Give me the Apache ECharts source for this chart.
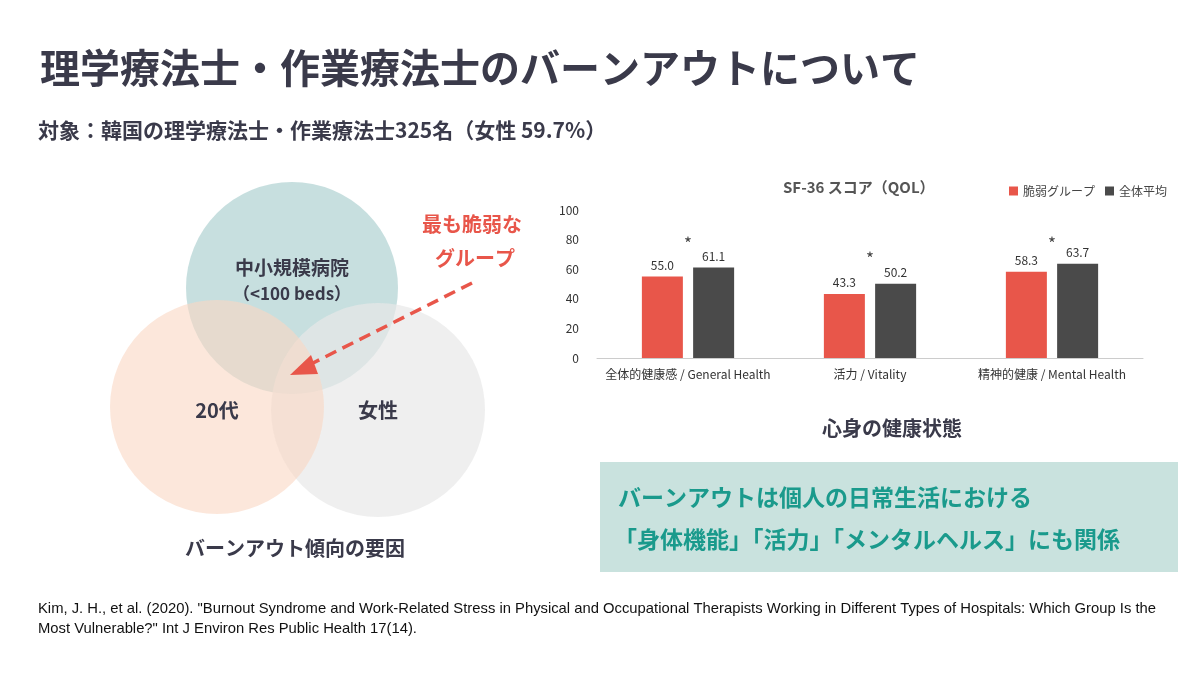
<!DOCTYPE html>
<html><head><meta charset="utf-8">
<script src="https://cdn.jsdelivr.net/npm/echarts@6/dist/echarts.min.js"></script>
<style>html,body{margin:0;padding:0;background:#fff}#c{width:1200px;height:675px}</style>
</head><body><div id="c"></div>
<script>
var categories = ['全体的健康感 / General Health', '活力 / Vitality', '精神的健康 / Mental Health'];
var vulnerable = [55.0, 43.3, 58.3];
var overall = [61.1, 50.2, 63.7];
var yTicks = [0, 20, 40, 60, 80, 100];
var starHeights = [77, 67, 77];

var F = '"Noto Sans CJK JP", "Noto Sans", sans-serif';
var red = '#e8564a', dark = '#4a4a4a', ink = '#3a3a4a';
var chart = echarts.init(document.getElementById('c'));

function t(x, y, text, size, color, weight, align, extra) {
  var s = { x: x, y: y, text: text, fontSize: size, fill: color, fontWeight: weight || 'bold',
    fontFamily: F, textAlign: align || 'left', textVerticalAlign: 'middle' };
  if (extra) for (var k in extra) s[k] = extra[k];
  return { type: 'text', style: s, z: 10 };
}

chart.setOption({
  animation: false,
  title: { text: 'SF-36 スコア（QOL）', left: 778, top: 175,
    textStyle: { fontFamily: F, fontSize: 15, fontWeight: 'bold', color: '#555' } },
  legend: { right: 28, top: 180, itemWidth: 9, itemHeight: 9, itemGap: 10, icon: 'rect',
    textStyle: { fontFamily: F, fontSize: 12, color: '#444' },
    data: ['脆弱グループ', '全体平均'] },
  grid: { left: 597, right: 57, top: 210, bottom: 317 },
  xAxis: { type: 'category', data: categories,
    axisLine: { lineStyle: { color: '#ccc' } }, axisTick: { show: false },
    axisLabel: { fontFamily: F, fontSize: 12, color: '#333', margin: 10, interval: 0 } },
  yAxis: { type: 'value', min: 0, max: 100, interval: 20,
    axisLabel: { fontFamily: F, fontSize: 12, color: '#333', margin: 18,
      formatter: function (v) { return yTicks.indexOf(v) >= 0 ? v : ''; } },
    splitLine: { show: false } },
  series: [
    { name: '脆弱グループ', type: 'bar', data: vulnerable, barWidth: 41, barGap: '25%',
      itemStyle: { color: red },
      label: { show: true, position: 'top', formatter: function (p) { return p.value.toFixed(1); },
        fontFamily: F, fontSize: 12, color: '#333' } },
    { name: '全体平均', type: 'bar', data: overall, barWidth: 41,
      itemStyle: { color: dark },
      label: { show: true, position: 'top', formatter: function (p) { return p.value.toFixed(1); },
        fontFamily: F, fontSize: 12, color: '#333' } }
  ]
});

var stars = categories.map(function (c, i) {
  var p = chart.convertToPixel({ xAxisIndex: 0, yAxisIndex: 0 }, [i, starHeights[i]]);
  return t(p[0], p[1], '*', 17, '#444', 'normal', 'center');
});

var graphics = [
  t(40, 68, '理学療法士・作業療法士のバーンアウトについて', 40, ink, 'bold'),
  t(38, 130, '対象：韓国の理学療法士・作業療法士325名（女性 59.7%）', 21, ink, 'bold', 'left', { letterSpacing: 3 }),
  { type: 'circle', shape: { cx: 292, cy: 288, r: 106 }, style: { fill: 'rgba(180,212,212,0.75)' }, z: 1 },
  { type: 'circle', shape: { cx: 378, cy: 410, r: 107 }, style: { fill: 'rgba(232,232,232,0.7)' }, z: 2 },
  { type: 'circle', shape: { cx: 217, cy: 407, r: 107 }, style: { fill: 'rgba(250,215,195,0.6)' }, z: 3 },
  t(292, 268, '中小規模病院', 19, ink, 'bold', 'center'),
  t(292, 294, '（<100 beds）', 17, ink, 'bold', 'center'),
  t(217, 410, '20代', 20, ink, 'bold', 'center'),
  t(378, 410, '女性', 20, ink, 'bold', 'center'),
  t(472, 224, '最も脆弱な', 20, red, 'bold', 'center'),
  t(475, 258, 'グループ', 20, red, 'bold', 'center'),
  { type: 'line', shape: { x1: 472, y1: 283, x2: 305, y2: 367 },
    style: { stroke: red, lineWidth: 3.5, lineDash: [12, 7] }, z: 10 },
  { type: 'polygon', shape: { points: [[290, 375], [311, 355], [318, 374]] }, style: { fill: red }, z: 10 },
  t(295, 548, 'バーンアウト傾向の要因', 20, ink, 'bold', 'center'),
  t(892, 428, '心身の健康状態', 20, ink, 'bold', 'center'),
  { type: 'rect', shape: { x: 600, y: 462, width: 578, height: 110 }, style: { fill: '#c9e2de' }, z: 1 },
  t(618, 497, 'バーンアウトは個人の日常生活における', 23, '#1a9a8c', 'bold'),
  t(614, 539, '「身体機能」「活力」「メンタルヘルス」にも関係', 23, '#1a9a8c', 'bold'),
  t(38, 609, 'Kim, J. H., et al. (2020). "Burnout Syndrome and Work-Related Stress in Physical and Occupational Therapists Working in Different Types of Hospitals: Which Group Is the', 14.8, '#111', 'normal', 'left', { fontFamily: 'Liberation Sans, Arial, sans-serif' }),
  t(38, 629, 'Most Vulnerable?" Int J Environ Res Public Health 17(14).', 14.8, '#111', 'normal', 'left', { fontFamily: 'Liberation Sans, Arial, sans-serif' })
].concat(stars);

chart.setOption({ graphic: graphics });
</script></body></html>
